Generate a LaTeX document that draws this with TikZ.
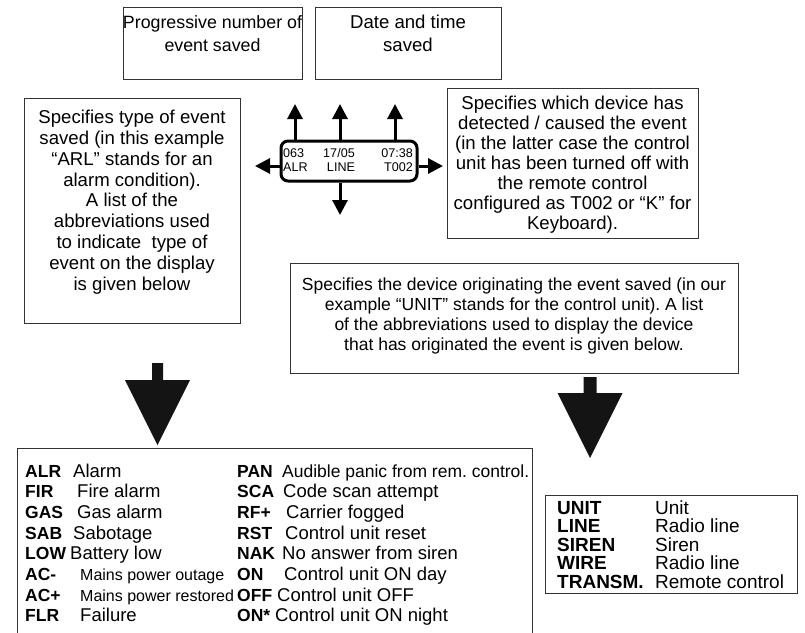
\documentclass[tikz,border=0pt]{standalone}
\usepackage{fontspec}
\setmainfont{Liberation Sans}
\usetikzlibrary{arrows.meta}
\frenchspacing
\begin{document}
\begin{tikzpicture}[x=1pt,y=-1pt,
  box/.style={draw=black!80, line width=1pt, fill=white, inner sep=0pt, anchor=north west},
  txt/.style={inner sep=0pt, align=center, anchor=north},
  lcdbox/.style={draw=black, line width=3pt, rounded corners=7pt, inner sep=0pt, minimum width=136pt, minimum height=40pt},
  lcdtxt/.style={inner sep=0pt, font=\fontsize{12.6}{14}\selectfont},
  smallarrow/.style={line width=3pt, -{Triangle[length=15pt,width=15pt]}},
  bigarrow/.style={fill=black!92},
  ab/.style={inner sep=0pt, anchor=base west, font=\fontsize{17.5}{20}\selectfont\bfseries},
  de/.style={inner sep=0pt, anchor=base west, font=\fontsize{18.5}{20}\selectfont},
  desm/.style={inner sep=0pt, anchor=base west, font=\fontsize{16}{18}\selectfont},
  dep/.style={inner sep=0pt, anchor=base west, font=\fontsize{17.5}{20}\selectfont},
  gab/.style={inner sep=0pt, anchor=base west, font=\fontsize{19}{20}\selectfont\bfseries},
  gde/.style={inner sep=0pt, anchor=base west, font=\fontsize{19}{20}\selectfont}]
\useasboundingbox (0,0) rectangle (805,632);

% top boxes
\node[box, minimum width=179pt, minimum height=72pt] (A) at (123,7) {};
\node[txt, font=\fontsize{17.8}{23}\selectfont] (Atxt) at (212.5,15) {Progressive number of\\event saved};
\node[box, minimum width=186pt, minimum height=72pt] (B) at (315,7) {};
\node[txt, font=\fontsize{18.6}{23}\selectfont] (Btxt) at (408,15) {Date and time\\saved};

% left box C
\node[box, minimum width=216pt, minimum height=225pt] (C) at (24,98) {};
\node[txt, font=\fontsize{18.6}{20.8}\selectfont] (Ctxt) at (132,110) {Specifies type of event\\saved (in this example\\“ARL” stands for an\\alarm condition).\\A list of the\\abbreviations used\\to indicate\ \ type of\\event on the display\\is given below};

% right box D
\node[box, minimum width=251pt, minimum height=150pt] (D) at (447,88) {};
\node[txt, font=\fontsize{18.6}{20}\selectfont] (Dtxt) at (572.5,96) {Specifies which device has\\detected / caused the event\\(in the latter case the control\\unit has been turned off with\\the remote control\\configured as T002 or “K” for\\Keyboard).};

% LCD display
\node[lcdbox] (lcd) at (349,161) {};
\node[lcdtxt, anchor=base west] (l1) at (283,157.5) {063};
\node[lcdtxt, anchor=base] (l2) at (339,157.5) {17/05};
\node[lcdtxt, anchor=base east] (l3) at (413,157.5) {07:38};
\node[lcdtxt, anchor=base west] (l4) at (283,171.5) {ALR};
\node[lcdtxt, anchor=base] (l5) at (341,171.5) {LINE};
\node[lcdtxt, anchor=base east] (l6) at (413,171.5) {T002};

% small arrows
\coordinate (u1) at (295,104);
\coordinate (u2) at (340,104);
\coordinate (u3) at (395,104);
\coordinate (dn) at (340,215);
\coordinate (lf) at (255,166);
\coordinate (rt) at (443,166);
\draw[smallarrow] (lcd.north -| u1) -- (u1);
\draw[smallarrow] (lcd.north -| u2) -- (u2);
\draw[smallarrow] (lcd.north -| u3) -- (u3);
\draw[smallarrow] (lcd.south -| dn) -- (dn);
\draw[smallarrow] (lcd.west |- lf) -- (lf);
\draw[smallarrow] (lcd.east |- rt) -- (rt);

% device box E
\node[box, minimum width=448pt, minimum height=110pt] (E) at (290,263) {};
\node[txt, font=\fontsize{17.5}{20}\selectfont] (Etxt) at (514,278) {Specifies the device originating the event saved (in our\\example “UNIT” stands for the control unit). A list\\of the abbreviations used to display the device\\that has originated the event is given below.};

% big arrows
\coordinate (LA) at (157.5,363);
\fill[bigarrow] (LA) ++(-5.5,0) -- ++(11,0) -- ++(0,17) -- ++(27,0) -- ++(-32.5,65) -- ++(-32.5,-65) -- ++(27,0) -- cycle;
\coordinate (RA) at (590,377);
\fill[bigarrow] (RA) ++(-6.5,0) -- ++(13,0) -- ++(0,16) -- ++(26,0) -- ++(-32.5,65) -- ++(-32.5,-65) -- ++(26,0) -- cycle;

% bottom left box F (open at the bottom)
\node[inner sep=0pt, anchor=north west, minimum width=515pt, minimum height=190pt] (F) at (17,448) {};
\draw[draw=black!80, line width=1pt] (F.south west) |- (F.north east) -- (F.south east);

\node[ab] (fa1) at (25,477) {ALR};  \node[de] (fd1) at (73,477) {Alarm};
\node[ab] (fa2) at (25,497.7) {FIR}; \node[de] (fd2) at (77,497.7) {Fire alarm};
\node[ab] (fa3) at (25,518.4) {GAS}; \node[de] (fd3) at (77,518.4) {Gas alarm};
\node[ab] (fa4) at (25,539.1) {SAB}; \node[de] (fd4) at (73,539.1) {Sabotage};
\node[ab] (fa5) at (25,559.8) {LOW}; \node[de] (fd5) at (70,559.8) {Battery low};
\node[ab] (fa6) at (25,580.5) {AC-}; \node[desm] (fd6) at (80,580.5) {Mains power outage};
\node[ab] (fa7) at (25,601.2) {AC+}; \node[desm] (fd7) at (80,601.2) {Mains power restored};
\node[ab] (fa8) at (25,621.9) {FLR}; \node[de] (fd8) at (80,621.9) {Failure};

\node[ab] (fb1) at (237,477) {PAN};  \node[dep] (fe1) at (282,477) {Audible panic from rem. control.};
\node[ab] (fb2) at (237,497.7) {SCA}; \node[de] (fe2) at (283,497.7) {Code scan attempt};
\node[ab] (fb3) at (237,518.4) {RF+}; \node[de] (fe3) at (286,518.4) {Carrier fogged};
\node[ab] (fb4) at (237,539.1) {RST}; \node[de] (fe4) at (285,539.1) {Control unit reset};
\node[ab] (fb5) at (237,559.8) {NAK}; \node[de] (fe5) at (282,559.8) {No answer from siren};
\node[ab] (fb6) at (237,580.5) {ON};  \node[de] (fe6) at (284,580.5) {Control unit ON day};
\node[ab] (fb7) at (237,601.2) {OFF}; \node[de] (fe7) at (277,601.2) {Control unit OFF};
\node[ab] (fb8) at (237,621.9) {ON*}; \node[de] (fe8) at (275,621.9) {Control unit ON night};

% bottom right box G
\node[box, minimum width=252pt, minimum height=98pt] (G) at (545,495) {};
\node[gab] (ga1) at (557,514) {UNIT};    \node[gde] (gd1) at (655,514) {Unit};
\node[gab] (ga2) at (557,532.5) {LINE};    \node[gde] (gd2) at (655,532.5) {Radio line};
\node[gab] (ga3) at (557,551) {SIREN};   \node[gde] (gd3) at (655,551) {Siren};
\node[gab] (ga4) at (557,569.5) {WIRE};    \node[gde] (gd4) at (655,569.5) {Radio line};
\node[gab] (ga5) at (557,588) {TRANSM.}; \node[gde] (gd5) at (655,588) {Remote control};
\end{tikzpicture}
\end{document}
